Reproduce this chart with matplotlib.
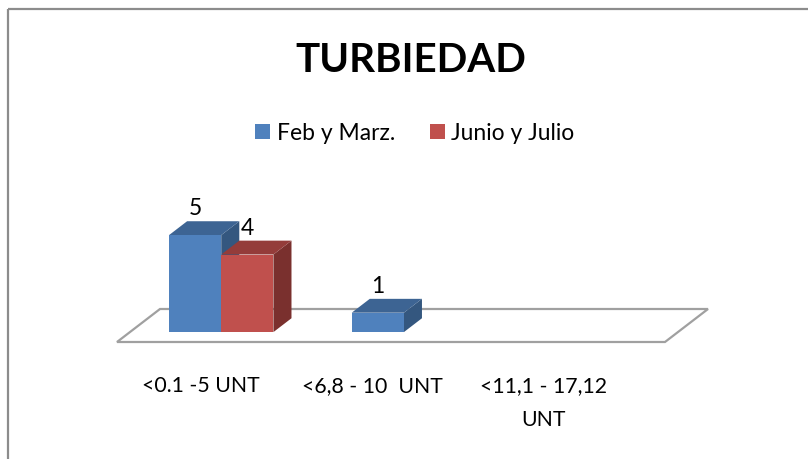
import matplotlib

matplotlib.use("Agg")
import matplotlib.pyplot as plt
from matplotlib.patches import Polygon, Rectangle, Patch

# data
categories = ["<0.1 -5 UNT", "<6,8 - 10  UNT", "<11,1 - 17,12\nUNT"]
series_names = ["Feb y Marz.", "Junio y Julio"]
feb_marz = [5, 1, None]
junio_julio = [4, None, None]
title = "TURBIEDAD"

# styling (Excel 2007 3D clustered column look)
front_colors = ["#4F81BD", "#C0504D"]
top_colors = ["#3D6493", "#943C3A"]
side_colors = ["#34577F", "#7A302E"]
FONT = "Lato"

# pixel layout of the 3D floor (axes are in pixel units)
W, H = 808, 460
floor_x0, floor_x1, floor_y = 117, 665, 343
depth_dx, depth_dy = 43, -33
unit = 19.4          # pixels per value unit
bar_d0, bar_d1 = 0.30, 0.72
gap_width = 1.5      # Excel gap width (150 %)


def proj(x, d, h):
    return (x + d * depth_dx, floor_y + d * depth_dy - h * unit)


fig = plt.figure(figsize=(W / 100, H / 100), dpi=100)
ax = fig.add_axes([0, 0, 1, 1])
ax.set_xlim(0, W)
ax.set_ylim(H, 0)
ax.axis("off")

# chart border
ax.add_patch(Rectangle((8, 10), W, H, fill=False, edgecolor="#8C8C8C", lw=1.6))

# floor
floor = [proj(floor_x0, 0, 0), proj(floor_x1, 0, 0), proj(floor_x1, 1, 0), proj(floor_x0, 1, 0)]
ax.add_patch(Polygon(floor, closed=True, facecolor="white", edgecolor="#A0A0A0", lw=1.6))

n_cat = len(categories)
cat_w = (floor_x1 - floor_x0) / n_cat
n_ser = len(series_names)
bar_w = cat_w / (n_ser + gap_width)

all_series = [feb_marz, junio_julio]
for i in range(n_cat):
    group_left = floor_x0 + i * cat_w + (cat_w - n_ser * bar_w) / 2
    for s, values in enumerate(all_series):
        v = values[i]
        if v is None:
            continue
        x0 = group_left + s * bar_w
        x1 = x0 + bar_w
        front = [proj(x0, bar_d0, 0), proj(x1, bar_d0, 0), proj(x1, bar_d0, v), proj(x0, bar_d0, v)]
        top = [proj(x0, bar_d0, v), proj(x1, bar_d0, v), proj(x1, bar_d1, v), proj(x0, bar_d1, v)]
        side = [proj(x1, bar_d0, 0), proj(x1, bar_d1, 0), proj(x1, bar_d1, v), proj(x1, bar_d0, v)]
        ax.add_patch(Polygon(side, closed=True, facecolor=side_colors[s], edgecolor="none"))
        ax.add_patch(Polygon(top, closed=True, facecolor=top_colors[s], edgecolor="none"))
        ax.add_patch(Polygon(front, closed=True, facecolor=front_colors[s], edgecolor="none"))
        lx, ly = proj((x0 + x1) / 2, bar_d0, v)
        _, ly_back = proj(x0, bar_d1, v)
        ax.text(lx, ly_back - 3, str(v), ha="center", va="bottom", fontsize=16.5,
                family=FONT, color="#000000")

# category labels
label_x0, label_step = 201, 171
for i, lab in enumerate(categories):
    ax.text(label_x0 + i * label_step, 376, lab, ha="center", va="top", fontsize=15.3,
            family=FONT, linespacing=1.85, color="#000000")

# title
ax.text(411, 61, title, ha="center", va="center", fontsize=29, fontweight="bold",
        family=FONT, color="#000000")

# legend
handles = [Patch(facecolor=c, edgecolor="none") for c in front_colors]
leg = ax.legend(handles, series_names, loc="center", bbox_to_anchor=(415 / W, 1 - 134 / H),
                ncol=2, frameon=False, handlelength=0.65, handleheight=0.65,
                handletextpad=0.3, columnspacing=1.5, prop={"family": FONT, "size": 16.5})

fig.savefig("out.png", dpi=100)
